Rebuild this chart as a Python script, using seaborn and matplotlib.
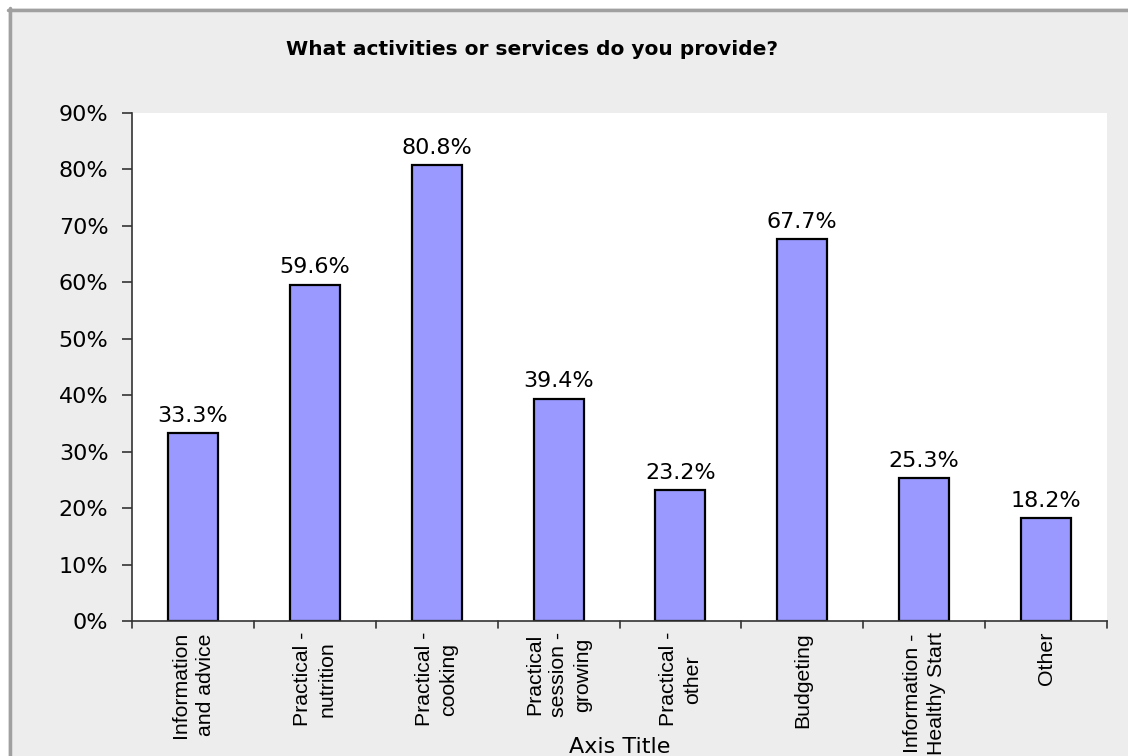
import matplotlib
matplotlib.use("Agg")
import matplotlib.pyplot as plt
from matplotlib.lines import Line2D
import seaborn as sns
import pandas as pd

categories = [
    "Information\nand advice",
    "Practical -\nnutrition",
    "Practical -\ncooking",
    "Practical\nsession -\ngrowing",
    "Practical -\nother",
    "Budgeting",
    "Information -\nHealthy Start",
    "Other",
]
percentages = [33.3, 59.6, 80.8, 39.4, 23.2, 67.7, 25.3, 18.2]
ytick_values = [0, 10, 20, 30, 40, 50, 60, 70, 80, 90]
title = "What activities or services do you provide?"
xlabel = "Axis Title"

sns.set_style("white")
plt.rcParams["font.family"] = ["DejaVu Sans"]
plt.rcParams["text.color"] = "black"

LABEL_FONT = ["Liberation Sans", "DejaVu Sans"]

df = pd.DataFrame({"activity": categories, "pct": percentages})

W, H = 1128, 756
fig = plt.figure(figsize=(W / 100, H / 100), dpi=100)
fig.patch.set_facecolor("#ededed")

left, right, top, bottom = 132, 1107, 113, 621
ax = fig.add_axes([left / W, 1 - bottom / H, (right - left) / W, (bottom - top) / H])
ax.set_facecolor("white")

sns.barplot(data=df, x="activity", y="pct", ax=ax, color="#9999ff",
            saturation=1, width=0.41, edgecolor="black", linewidth=1.6)

ax.set_ylim(0, 90)
ax.set_xlim(-0.5, len(categories) - 0.5)
ax.set_yticks(ytick_values)
ax.set_yticklabels([f"{v}%" for v in ytick_values], fontsize=16, color="black")

ax.set_xticks(range(len(categories)))
ax.set_xticklabels(categories, rotation=90, fontsize=15.3, ha="center",
                   va="top", multialignment="center", family=LABEL_FONT,
                   color="black", linespacing=1.35)
ax.tick_params(axis="x", length=0, pad=8)
ax.tick_params(axis="y", length=7, width=1.2, color="#333333", pad=10,
               direction="out", left=True)

# tick marks on the category boundaries
for b in [i - 0.5 for i in range(len(categories) + 1)]:
    ax.plot([b, b], [0, -1.2], color="#333333", lw=1.2, clip_on=False)

for s in ["top", "right"]:
    ax.spines[s].set_visible(False)
for s in ["left", "bottom"]:
    ax.spines[s].set_color("#333333")
    ax.spines[s].set_linewidth(1.2)

for i, v in enumerate(percentages):
    ax.annotate(f"{v:.1f}%", (i, v), xytext=(0, 8), textcoords="offset points",
                ha="center", va="baseline", fontsize=16, color="black")

ax.set_xlabel("")
ax.set_ylabel("")
fig.text((left + right) / 2 / W, 1 - 753 / H, xlabel, ha="center", va="baseline",
         fontsize=16, color="black")
fig.text(532 / W, 1 - 55 / H, title, ha="center", va="baseline", fontsize=14.5,
         fontweight="bold", color="black")

# outer frame lines
fig.patches.append(plt.Rectangle((0, 1 - 8 / H), 1, 8 / H, transform=fig.transFigure,
                                 facecolor="white", edgecolor="none"))
fig.patches.append(plt.Rectangle((0, 0), 8 / W, 1, transform=fig.transFigure,
                                 facecolor="white", edgecolor="none"))
fig.add_artist(Line2D([8 / W, 1], [1 - 9.5 / H, 1 - 9.5 / H], color="#a0a0a0", lw=2.5))
fig.add_artist(Line2D([9.5 / W, 9.5 / W], [0, 1 - 8 / H], color="#a0a0a0", lw=2.5))

fig.savefig("out.png", dpi=100, facecolor=fig.get_facecolor())
